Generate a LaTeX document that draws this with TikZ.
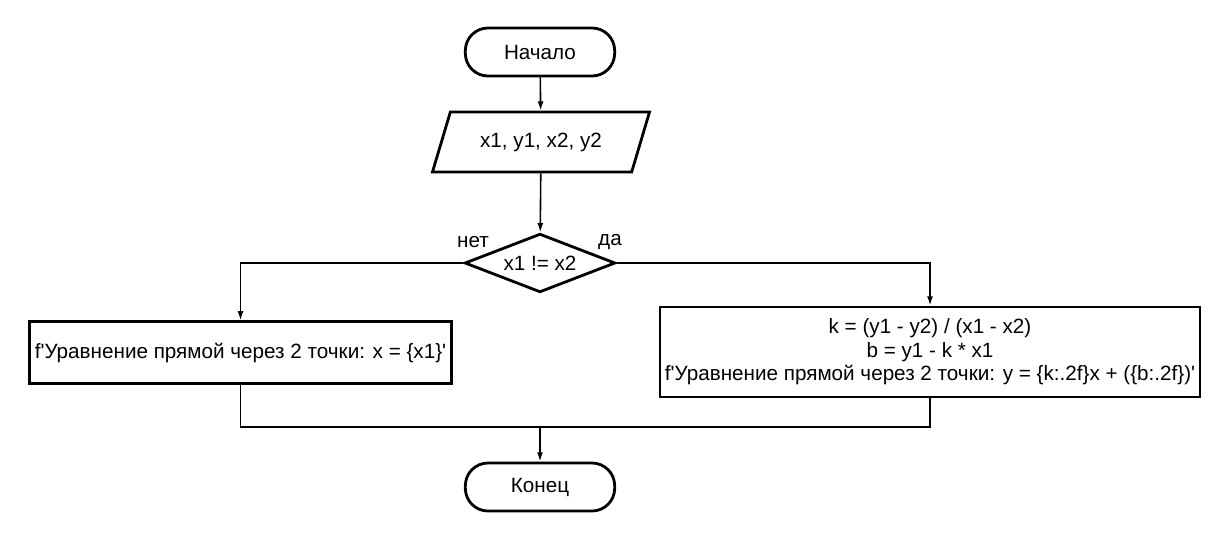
\documentclass[tikz,border=0pt]{standalone}
\usepackage{fontspec}
\setmainfont{Liberation Sans}
\usetikzlibrary{positioning, arrows.meta, shapes.geometric}

\begin{document}
\begin{tikzpicture}[x=0.75pt,y=-0.75pt]
						\tikzstyle{terminal}=[draw=black,line width=2.1pt,rounded corners=17pt,minimum width=112pt,minimum height=36pt,font=\fontsize{15.5}{17.6}\selectfont]
						\tikzstyle{io}=[draw=black,line width=2.1pt,trapezium,trapezium stretches=true,trapezium left angle=65,trapezium right angle=115,minimum width=163pt,minimum height=45pt,font=\fontsize{15.5}{17.6}\selectfont]
						\tikzstyle{decision}=[draw=black,line width=2.1pt,diamond,aspect=2.56,minimum width=113pt,minimum height=44pt,inner sep=0pt,font=\fontsize{15.5}{17.6}\selectfont]
						\tikzstyle{process}=[draw=black,line width=2.1pt,align=center,inner sep=0pt,font=\fontsize{15.5}{17.6}\selectfont]
						\tikzstyle{flow}=[line width=1.2pt,-{Latex[length=7pt,width=4.5pt]}]
						\tikzstyle{lbl}=[font=\fontsize{15.5}{17.6}\selectfont]
						\useasboundingbox (0,0) rectangle (1230,540);
						\node[terminal](start) at (540,52) {Начало};
						\node[io](input) at (541,142) {x1, y1, x2, y2};
						\node[decision](cond) at (540,263) {x1 != x2};
						\node[process,minimum width=317pt,minimum height=46pt](no) at (240.5,352.5) {f\textquotesingle Уравнение прямой через 2 точки: x = \{x1\}\textquotesingle};
						\node[process,minimum width=405pt,minimum height=67.5pt](yes) at (930,352) {k = (y1 - y2) / (x1 - x2)\\b = y1 - k * x1\\f\textquotesingle Уравнение прямой через 2 точки: y = \{k:.2f\}x + (\{b:.2f\})\textquotesingle};
						\node[terminal](stop) at (540,487) {Конец};
						\node[lbl](lno) at (473,242) {нет};
						\node[lbl](lyes) at (610,242) {да};
						\coordinate (m) at (540,427);
						\draw[flow](start) -- (input);
						\draw[flow](input) -- (cond);
						\draw[flow](cond.west) -| (no.north);
						\draw[flow](cond.east) -| (yes.north);
						\draw[line width=1.2pt](no.south) |- (m);
						\draw[line width=1.2pt](yes.south) |- (m);
						\draw[flow](m) -- (stop);
					\end{tikzpicture}
\end{document}
